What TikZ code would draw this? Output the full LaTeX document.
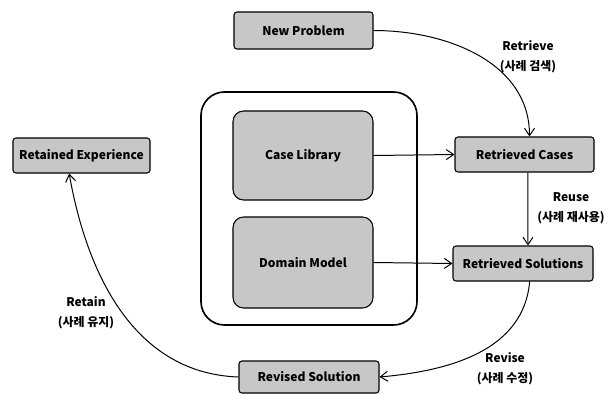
\documentclass[tikz,border=0pt]{standalone}
\usepackage{fontspec}
\setmainfont{Noto Sans CJK KR}
\usepackage{tikz}
\usetikzlibrary{arrows.meta, positioning}

\begin{document}
\begin{tikzpicture}[
            x=0.03cm, y=-0.03cm,
            box/.style = {draw, line width=0.9pt, rounded corners=2.5pt, fill=black!22,
                          inner sep=0pt, font=\bfseries\fontsize{10.3}{12}\selectfont},
            store/.style = {box, rounded corners=9pt, minimum width=4.2cm},
            lbl/.style = {align=center, font=\bfseries\fontsize{10.2}{17}\selectfont},
            flow/.style = {draw, line width=0.85pt, -{Straight Barb[length=2.2mm, width=3mm]}},
            >=latex]
            \useasboundingbox (0,0) rectangle (615,395);
            \draw[line width=1.4pt, rounded corners=20pt] (201,92) rectangle (417,325);
            \node[store, minimum height=2.67cm] (cl) at (303,155.5) {Case Library};
            \node[store, minimum height=2.73cm] (dm) at (303,262.5) {Domain Model};
            \node[box, minimum width=4.17cm, minimum height=1.11cm] (np) at (303.5,30.5) {New Problem};
            \node[box, minimum width=4.17cm, minimum height=1.05cm] (rc) at (524.5,154.5) {Retrieved Cases};
            \node[box, minimum width=4.2cm, minimum height=1.05cm] (rs) at (523,263.5) {Retrieved Solutions};
            \node[box, minimum width=4.2cm, minimum height=0.96cm] (rv) at (309,377) {Revised Solution};
            \node[box, minimum width=4.11cm, minimum height=1.05cm] (re) at (81.5,155.5) {Retained Experience};
            \node[lbl] (lRetrieve) at (528,57) {Retrieve\\(사례 검색)};
            \node[lbl] (lReuse) at (571,208) {Reuse\\(사례 재사용)};
            \node[lbl] (lRevise) at (505,369) {Revise\\(사례 수정)};
            \node[lbl] (lRetain) at (86,313) {Retain\\(사례 유지)};
            \draw[flow] (np.east) to[out=0, in=90] ([xshift=0.15cm]rc.north);
            \draw[flow] (cl.east) -- (rc.west);
            \draw[flow] (dm.east) -- (rs.west);
            \draw[flow] ([xshift=0.1cm]rc.south) -- ([xshift=0.15cm]rs.north);
            \draw[flow] ([xshift=0.2cm]rs.south) to[out=-95, in=5] (rv.east);
            \draw[flow] (rv.west) to[out=178, in=-80] ([xshift=-0.37cm]re.south);
        \end{tikzpicture}
\end{document}
